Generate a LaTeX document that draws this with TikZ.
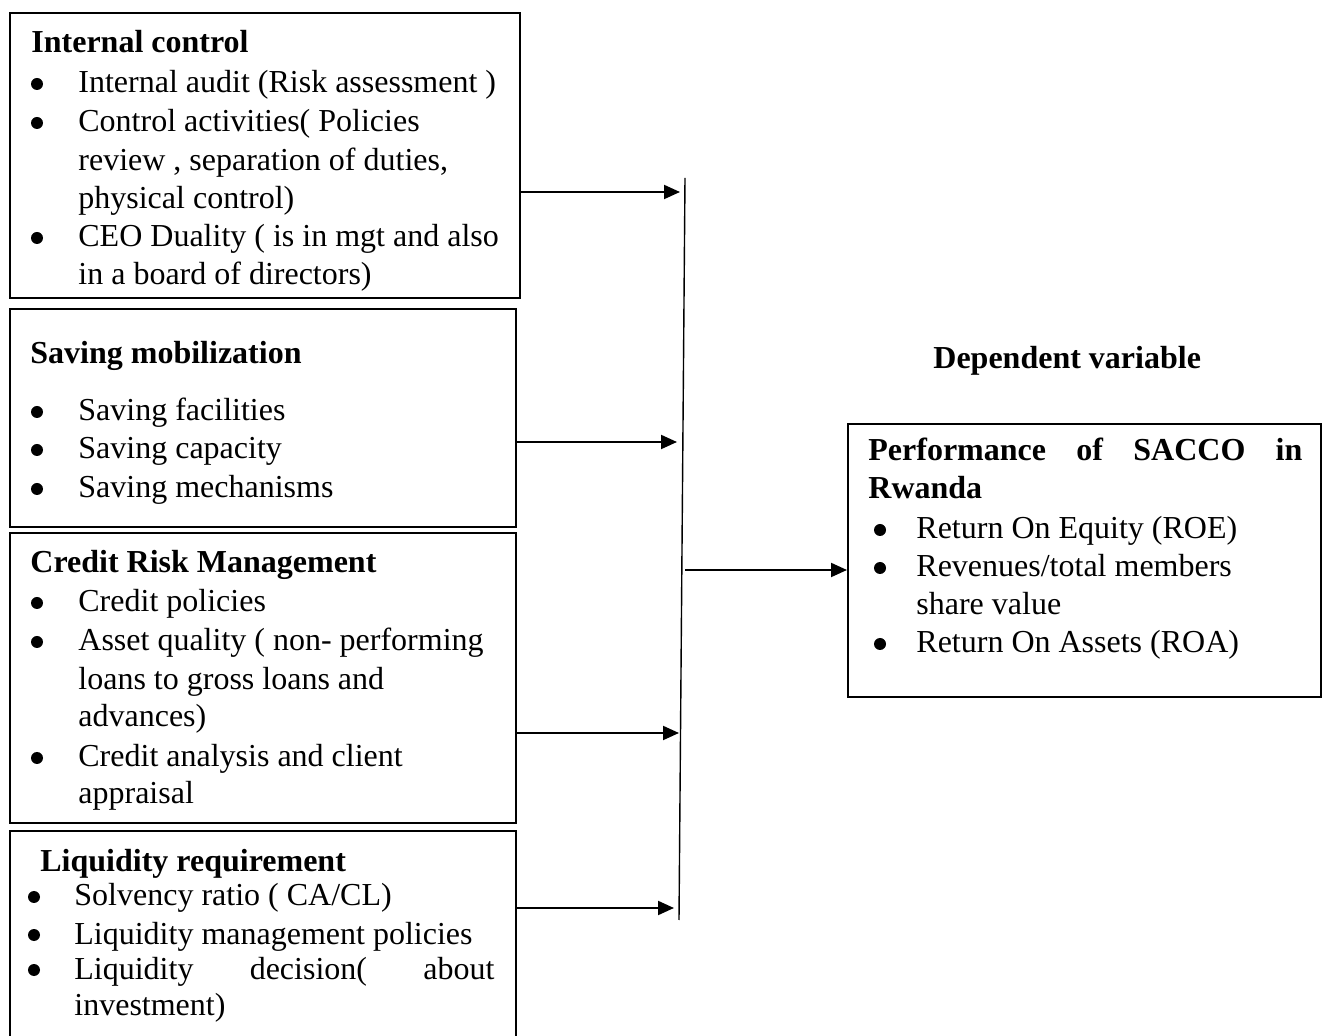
\documentclass[tikz,border=0pt]{standalone}
\usepackage{fontspec}
\setmainfont{Liberation Serif}
\usetikzlibrary{arrows.meta}
\tikzset{
  box/.style={draw, line width=1pt, anchor=north west, inner sep=0pt},
  txt/.style={anchor=base west, inner sep=0pt, font=\fontsize{16}{19}\selectfont},
  hdr/.style={txt, font=\fontsize{16}{19}\selectfont\bfseries},
  bul/.style={circle, fill=black, inner sep=0pt, minimum size=6pt},
  arr/.style={line width=1pt, -{Triangle[length=8pt,width=7pt]}},
  vline/.style={line width=0.7pt}
}
\begin{document}
\begin{tikzpicture}[x=0.5pt,y=-0.5pt]
\clip (0,0) rectangle (1323,1036);
\fill[white] (0,0) rectangle (1323,1036);

% boxes
\node[box, minimum width=255pt, minimum height=142.5pt] (ic) at (9,12) {};
\node[box, minimum width=253pt, minimum height=109pt] (sm) at (9,308) {};
\node[box, minimum width=253pt, minimum height=145pt] (crm) at (9,532) {};
\node[box, minimum width=253pt, minimum height=107.5pt] (lr) at (9,830) {};
\node[box, minimum width=236.5pt, minimum height=136.5pt] (perf) at (847,423) {};

% Internal control
\node[hdr] (ich) at (31,53) {Internal control};
\node[bul] (icb1) at (37,84) {};
\node[txt] (ic1) at (78,93) {Internal audit (Risk assessment )};
\node[bul] (icb2) at (37,123) {};
\node[txt] (ic2) at (78,132) {Control activities( Policies};
\node[txt] (ic3) at (78,171) {review , separation of duties,};
\node[txt] (ic4) at (78,209) {physical control)};
\node[bul] (icb3) at (37,238) {};
\node[txt] (ic5) at (78,247) {CEO Duality ( is in mgt and also};
\node[txt] (ic6) at (78,285) {in a board of directors)};

% Saving mobilization
\node[hdr] (smh) at (30,364) {Saving mobilization};
\node[bul] (smb1) at (37,412) {};
\node[txt] (sm1) at (78,421) {Saving facilities};
\node[bul] (smb2) at (37,450) {};
\node[txt] (sm2) at (78,459) {Saving capacity};
\node[bul] (smb3) at (37,489) {};
\node[txt] (sm3) at (78,498) {Saving mechanisms};

% Credit Risk Management
\node[hdr] (crmh) at (30,573) {Credit Risk Management};
\node[bul] (crb1) at (37,603) {};
\node[txt] (cr1) at (78,612) {Credit policies};
\node[bul] (crb2) at (37,642) {};
\node[txt] (cr2) at (78,651) {Asset quality ( non- performing};
\node[txt] (cr3) at (78,690) {loans to gross loans and};
\node[txt] (cr4) at (78,727) {advances)};
\node[bul] (crb3) at (37,758) {};
\node[txt] (cr5) at (78,767) {Credit analysis and client};
\node[txt] (cr6) at (78,804) {appraisal};

% Liquidity requirement
\node[hdr] (lrh) at (40,871) {Liquidity requirement};
\node[bul] (lrb1) at (34,897) {};
\node[txt] (lr1) at (74,906) {Solvency ratio ( CA/CL)};
\node[bul] (lrb2) at (34,935) {};
\node[txt] (lr2) at (74,944) {Liquidity management policies};
\node[bul] (lrb3) at (34,970) {};
\node[txt] (lr3) at (74,979) {\makebox[210pt][s]{Liquidity decision( about}};
\node[txt] (lr4) at (74,1015) {investment)};

% Dependent variable
\node[hdr] (dv) at (933,369) {Dependent variable};

% Performance box
\node[hdr] (pfh) at (868,461) {\makebox[217pt][s]{Performance of SACCO in}};
\node[hdr] (pfh2) at (868,499) {Rwanda};
\node[bul] (pfb1) at (880,530) {};
\node[txt] (pf1) at (916,539) {Return On Equity (ROE)};
\node[bul] (pfb2) at (880,568) {};
\node[txt] (pf2) at (916,577) {Revenues/total members};
\node[txt] (pf3) at (916,615) {share value};
\node[bul] (pfb3) at (880,644) {};
\node[txt] (pf4) at (916,653) {Return On Assets (ROA)};

% vertical collector line
\coordinate (vt) at (685,178);
\coordinate (vb) at (679,920);
\draw[vline] (vt) -- (vb);

% arrows into the collector
\coordinate (t1) at (680,192);
\coordinate (t2) at (677,442);
\coordinate (t3) at (679,733);
\coordinate (t4) at (674,908);
\draw[arr] (ic.east |- t1) -- (t1);
\draw[arr] (sm.east |- t2) -- (t2);
\draw[arr] (crm.east |- t3) -- (t3);
\draw[arr] (lr.east |- t4) -- (t4);

% output arrow
\coordinate (m) at (685,570);
\draw[arr] (m) -- (perf.west |- m);
\end{tikzpicture}
\end{document}
